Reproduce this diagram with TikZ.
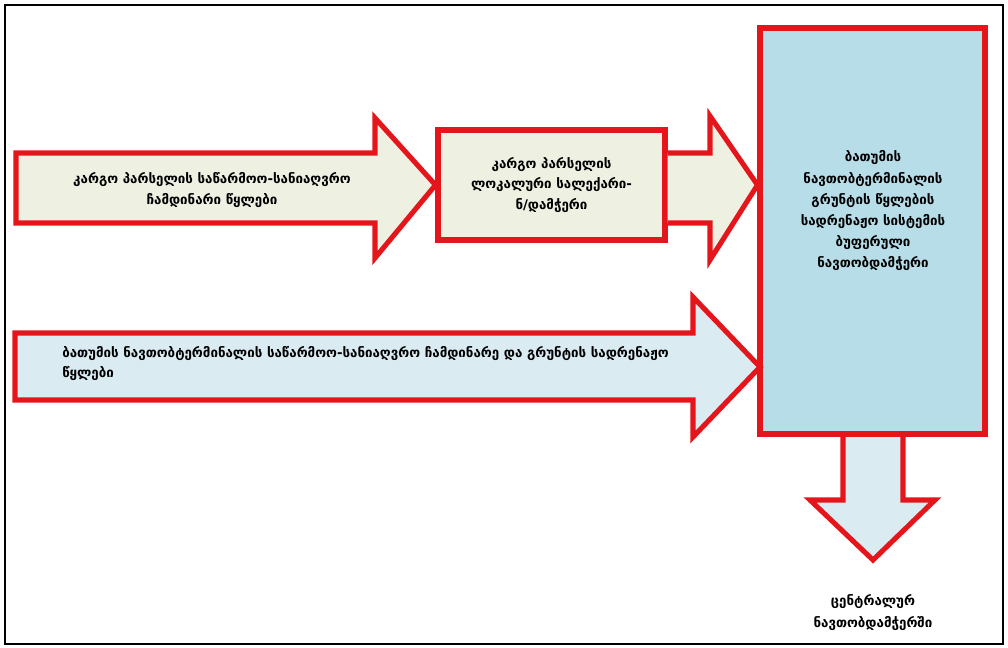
\documentclass[tikz,border=0pt]{standalone}
\usepackage{fontspec}
\setmainfont{DejaVu Sans}
\definecolor{arrred}{RGB}{228,22,28}
\definecolor{beige}{RGB}{238,240,226}
\definecolor{boxblue}{RGB}{183,221,232}
\definecolor{paleblue}{RGB}{218,235,242}
\begin{document}
\begin{tikzpicture}[x=0.75pt,y=-0.75pt,
  rl/.style={draw=arrred,line width=3.8pt,line join=miter,miter limit=10},
  txt/.style={font=\bfseries\fontsize{10}{15.4}\selectfont,inner sep=0pt},
]
\useasboundingbox (0,0) rectangle (1008,647);
\draw[black,line width=1.5pt] (5,5) rectangle (1003,644);

% box 2 (local settler)
\node[rl,fill=beige,minimum width=170.25pt,minimum height=82.5pt,inner sep=0pt] (settler) at (551.5,185) {};
\node[txt,align=center] (settlertxt) at (settler.center) {კარგო პარსელის\\ლოკალური სალექარი-\\ნ/დამჭერი};

% down arrow (drawn below the big box)
\coordinate (dtop) at (873,434);
\coordinate (dtip) at (873,560);
\filldraw[rl,fill=paleblue] ([xshift=-22.5pt]dtop) -- ([xshift=-22.5pt]dtop |- 0,500) -- (810,500) -- (dtip) -- (935,500) -- ([xshift=22.5pt]dtop |- 0,500) -- ([xshift=22.5pt]dtop) -- cycle;

% big box (buffer oil trap)
\node[rl,fill=boxblue,minimum width=168.75pt,minimum height=304.5pt,inner sep=0pt] (buffer) at (872.5,231) {};
\node[txt,align=center,font=\bfseries\fontsize{10}{15.9}\selectfont] (buffertxt) at (873,211) {ბათუმის\\ნავთობტერმინალის\\გრუნტის წყლების\\სადრენაჟო სისტემის\\ბუფერული\\ნავთობდამჭერი};

% arrow 1: cargo parcel waters -> settler
\draw[rl,fill=beige] (16,153) -- (375,153) -- (375,118) -- (settler.west) -- (375,258) -- (375,223) -- (16,223) -- cycle;
\node[txt,align=center] (a1txt) at (212,190) {კარგო პარსელის საწარმოო-სანიაღვრო\\ჩამდინარი წყლები};

% arrow 2: settler -> buffer
\draw[rl,fill=beige] (settler.east |- 0,153) -- (710,153) -- (710,116) -- (buffer.west |- settler.east) -- (710,260) -- (710,223) -- (settler.east |- 0,223);

% arrow 3: terminal waters -> buffer
\draw[rl,fill=paleblue] (15,333) -- (693,333) -- (693,297) -- (760,367) -- (693,437) -- (693,400) -- (15,400) -- cycle;
\node[txt,align=left,anchor=north west] (a3txt) at (62,346) {ბათუმის ნავთობტერმინალის საწარმოო-სანიაღვრო ჩამდინარე და გრუნტის სადრენაჟო\\წყლები};

% label under down arrow
\node[txt,align=center,font=\bfseries\fontsize{10}{16.5}\selectfont] (central) at (873,613) {ცენტრალურ\\ნავთობდამჭერში};
\end{tikzpicture}
\end{document}
